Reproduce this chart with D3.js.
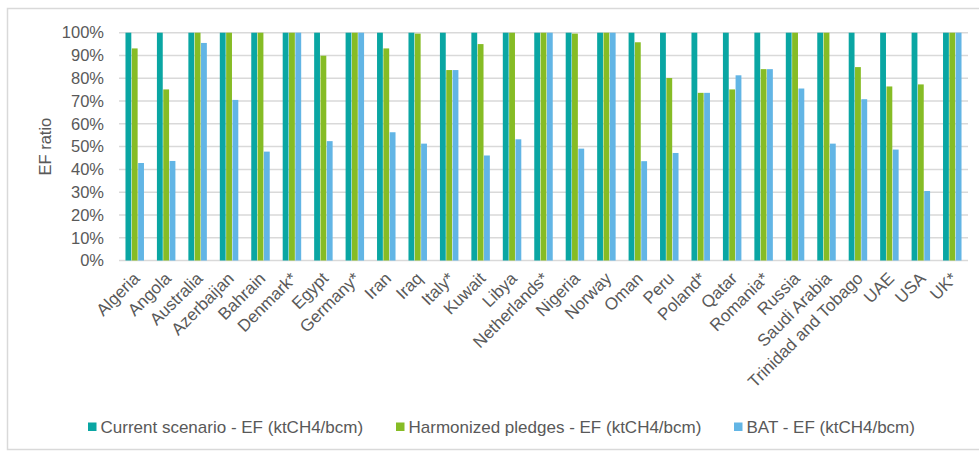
<!DOCTYPE html>
<html>
<head>
<meta charset="utf-8">
<script src="https://cdn.jsdelivr.net/npm/d3@7"></script>
<style>
    body { margin: 0; background: #fff; }
    text { font-family: "Liberation Sans", Arial, sans-serif; fill: #595959; }
</style>
</head>
<body>
<div id="chart"></div>
<script>
let countries = ["Algeria", "Angola", "Australia", "Azerbaijan", "Bahrain", "Denmark*", "Egypt",
    "Germany*", "Iran", "Iraq", "Italy*", "Kuwait", "Libya", "Netherlands*", "Nigeria", "Norway",
    "Oman", "Peru", "Poland*", "Qatar", "Romania*", "Russia", "Saudi Arabia", "Trinidad and Tobago",
    "UAE", "USA", "UK*"];

let seriesNames = ["Current scenario - EF (ktCH4/bcm)", "Harmonized pledges - EF (ktCH4/bcm)", "BAT - EF (ktCH4/bcm)"];
let seriesColors = ["#0aa6a3", "#86bc25", "#62b5e5"];

let currentEF = [1, 1, 1, 1, 1, 1, 1, 1, 1, 1, 1, 1, 1, 1, 1, 1, 1, 1, 1, 1, 1, 1, 1, 1, 1, 1, 1];
let pledgesEF = [0.931, 0.751, 1, 1, 1, 1, 0.899, 1, 0.931, 0.996, 0.836, 0.95, 1, 1, 0.996, 1,
    0.958, 0.801, 0.736, 0.751, 0.84, 1, 1, 0.849, 0.764, 0.773, 1];
let batEF = [0.428, 0.437, 0.955, 0.705, 0.478, 1, 0.524, 1, 0.563, 0.513, 0.836, 0.461, 0.532, 1,
    0.491, 1, 0.436, 0.472, 0.736, 0.813, 0.84, 0.755, 0.513, 0.708, 0.487, 0.305, 1];

let yTicks = [0, 0.1, 0.2, 0.3, 0.4, 0.5, 0.6, 0.7, 0.8, 0.9, 1];

let svgWidth = 979;
let svgHeight = 451;

let svg = d3.select("#chart")
    .append("svg")
    .attr("width", svgWidth)
    .attr("height", svgHeight);

// outer chart frame
svg.append("rect")
    .attr("x", 7.5)
    .attr("y", 8.5)
    .attr("width", 990)
    .attr("height", 441)
    .attr("fill", "none")
    .attr("stroke", "#d9d9d9")
    .attr("stroke-width", 1.5);

let plotLeft = 119, plotRight = 968, plotTop = 32.7, plotBottom = 260.5;

let x0 = d3.scaleBand()
    .domain(countries)
    .range([plotLeft, plotRight])
    .paddingInner(0.38)
    .paddingOuter(0.19);

let x1 = d3.scaleBand()
    .domain(d3.range(seriesNames.length))
    .range([0, x0.bandwidth()])
    .padding(0.08);

let y = d3.scaleLinear()
    .domain([0, 1])
    .range([plotBottom, plotTop]);

// gridlines
svg.append("g")
    .selectAll("line")
    .data(yTicks)
    .enter()
    .append("line")
    .attr("x1", plotLeft)
    .attr("x2", plotRight)
    .attr("y1", d => y(d))
    .attr("y2", d => y(d))
    .attr("stroke", "#d9d9d9")
    .attr("stroke-width", 1.5);

// y axis labels
let yAxis = d3.axisLeft(y)
    .tickValues(yTicks)
    .tickFormat(d3.format(".0%"))
    .tickSize(0)
    .tickPadding(15);

let yAxisG = svg.append("g")
    .attr("transform", `translate(${plotLeft}, 0)`)
    .call(yAxis);
yAxisG.select(".domain").remove();
yAxisG.selectAll("text")
    .style("font-size", "16.5px")
    .style("fill", "#595959")
    .style("font-family", "Liberation Sans, Arial, sans-serif");

svg.append("text")
    .attr("transform", `translate(51, ${(plotTop + plotBottom) / 2}) rotate(-90)`)
    .attr("text-anchor", "middle")
    .style("font-size", "16.5px")
    .text("EF ratio");

let seriesValues = [currentEF, pledgesEF, batEF];

let groups = svg.append("g")
    .selectAll("g")
    .data(countries)
    .enter()
    .append("g")
    .attr("transform", d => `translate(${x0(d)}, 0)`);

groups.selectAll("rect")
    .data((d, i) => seriesValues.map((vals, s) => ({ s: s, v: vals[i] })))
    .enter()
    .append("rect")
    .attr("x", d => x1(d.s))
    .attr("width", x1.bandwidth())
    .attr("y", d => y(d.v))
    .attr("height", d => y(0) - y(d.v))
    .attr("fill", d => seriesColors[d.s]);

// x axis labels, rotated
let xAxis = d3.axisBottom(x0).tickSize(0).tickPadding(0);
let xAxisG = svg.append("g")
    .attr("transform", `translate(0, ${plotBottom})`)
    .call(xAxis);
xAxisG.select(".domain").remove();
xAxisG.selectAll("text")
    .attr("text-anchor", "end")
    .attr("dy", null)
    .attr("y", 0)
    .attr("transform", "translate(6, 19) rotate(-45)")
    .style("font-size", "17px")
    .style("fill", "#595959")
    .style("font-family", "Liberation Sans, Arial, sans-serif");

// legend
let legendX = [88, 396, 734];
let legend = svg.append("g")
    .selectAll("g")
    .data(seriesNames)
    .enter()
    .append("g")
    .attr("transform", (d, i) => `translate(${legendX[i]}, 427)`);

legend.append("rect")
    .attr("x", 0)
    .attr("y", -4.5)
    .attr("width", 8.5)
    .attr("height", 8.5)
    .attr("fill", (d, i) => seriesColors[i]);

legend.append("text")
    .attr("x", 12.5)
    .attr("y", 6)
    .style("font-size", "17px")
    .text(d => d);
</script>
</body>
</html>
